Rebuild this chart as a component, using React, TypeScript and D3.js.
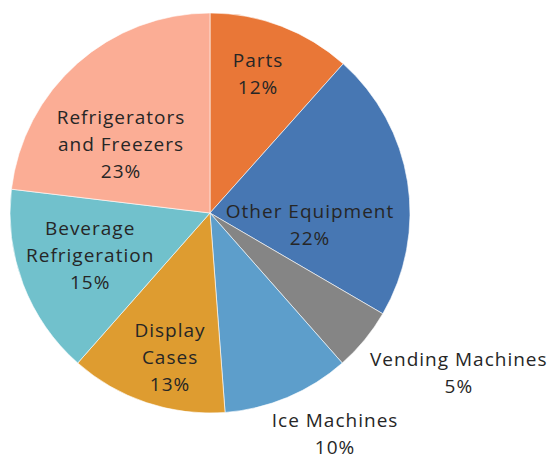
import React from "react";
import * as d3 from "d3";

const categories = [
  "Parts",
  "Other Equipment",
  "Vending Machines",
  "Ice Machines",
  "Display Cases",
  "Beverage Refrigeration",
  "Refrigerators and Freezers",
];
const values = [11.6, 21.8, 5.1, 10.3, 12.7, 15.4, 23.1];
const labelLines = [
  ["Parts"],
  ["Other Equipment"],
  ["Vending Machines"],
  ["Ice Machines"],
  ["Display", "Cases"],
  ["Beverage", "Refrigeration"],
  ["Refrigerators", "and Freezers"],
];
const colors = ["#E97737", "#4777B3", "#858585", "#5D9ECB", "#DE9C30", "#71C1CC", "#FBAD95"];
// label placement: [angle in degrees clockwise from 12 o'clock, distance from center]
const labelPlacement: [number, number][] = [
  [19, 147.5],
  [96.6, 100.7],
  [122.8, 296],
  [150.5, 254],
  [195.5, 149.5],
  [250.7, 127],
  [307.8, 112.6],
];

const W = 549;
const H = 454;
const cx = 210;
const cy = 213;
const R = 200;
const lineH = 27;

export default function App() {
  const total = d3.sum(values);
  const pie = d3.pie<number>().sort(null).value((d) => d)(values);
  const arc = d3.arc<d3.PieArcDatum<number>>().innerRadius(0).outerRadius(R);
  return (
    <svg
      width={W}
      height={H}
      style={{ position: "absolute", left: 0, top: 0 }}
      fontFamily="'Open Sans', sans-serif"
    >
      <g transform={`translate(${cx},${cy})`}>
        {pie.map((p, i) => (
          <path key={categories[i]} d={arc(p) || ""} fill={colors[i]} stroke="#ffffff" strokeWidth={0.6} />
        ))}
        {pie.map((p, i) => {
          const [deg, r] = labelPlacement[i];
          const a = (deg * Math.PI) / 180;
          const x = Math.sin(a) * r;
          const y = -Math.cos(a) * r;
          const lines = [...labelLines[i], `${Math.round((values[i] / total) * 100)}%`];
          const y0 = y - ((lines.length - 1) * lineH) / 2;
          return (
            <text key={"l" + i} textAnchor="middle" fontSize={19} letterSpacing={1} fill="#262626">
              {lines.map((t, j) => (
                <tspan key={j} x={x} y={y0 + j * lineH} dy="0.35em">
                  {t}
                </tspan>
              ))}
            </text>
          );
        })}
      </g>
    </svg>
  );
}
